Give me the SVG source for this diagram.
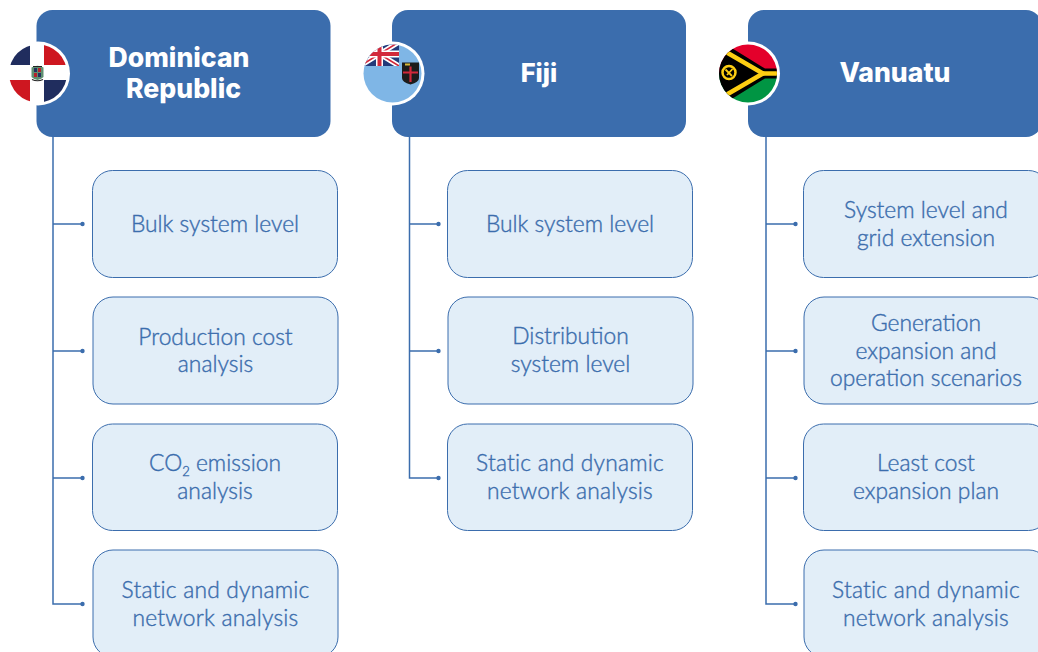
<svg xmlns="http://www.w3.org/2000/svg" width="1038" height="652" viewBox="0 0 1038 652">
<style>
.hd{fill:#3b6dad}
.hdt{font-family:"Inter","Liberation Sans",sans-serif;font-weight:800;font-size:26.6px;fill:#fff;text-anchor:middle}
.bx{fill:#e2eef8;stroke:#3b6dad;stroke-width:1}
.bt{font-family:"Lato","Liberation Sans",sans-serif;font-size:22.8px;font-weight:300;fill:#3b6dad;text-anchor:middle;stroke:#3b6dad;stroke-width:.4}
.w{letter-spacing:.2px}
.sub{font-size:13px}
.ln{fill:none;stroke:#3b6dad;stroke-width:1.5}
.dot{fill:#3b6dad}
</style>
<defs>
<clipPath id="c1"><circle cx="38" cy="73.5" r="29"/></clipPath>
<clipPath id="c2"><circle cx="392.5" cy="73.5" r="29"/></clipPath>
<clipPath id="c3"><circle cx="748" cy="73.5" r="29"/></clipPath>
<clipPath id="uj"><rect x="360" y="42" width="39" height="24"/></clipPath>
</defs>
<g id="connectors">
<path class="ln" d="M53 137V604H82M53 224H82M53 351H82M53 478H82"/>
<circle class="dot" cx="82.500" cy="224" r="2.200"/><circle class="dot" cx="82.500" cy="351" r="2.200"/><circle class="dot" cx="82.500" cy="478" r="2.200"/><circle class="dot" cx="82.500" cy="604" r="2.200"/>
<path class="ln" d="M409.500 137V478H438M409.500 224H438M409.500 351H438"/>
<circle class="dot" cx="438.500" cy="224" r="2.200"/><circle class="dot" cx="438.500" cy="351" r="2.200"/><circle class="dot" cx="438.500" cy="478" r="2.200"/>
<path class="ln" d="M766 137V604H795M766 224H795M766 351H795M766 478H795"/>
<circle class="dot" cx="795.500" cy="224" r="2.200"/><circle class="dot" cx="795.500" cy="351" r="2.200"/><circle class="dot" cx="795.500" cy="478" r="2.200"/><circle class="dot" cx="795.500" cy="604" r="2.200"/>
</g>
<g id="header-dominican-republic">
<rect class="hd" x="36.500" y="10" width="294" height="127" rx="16"/>
<text class="hdt"><tspan x="179" y="66.500">Dominican</tspan><tspan x="183.500" y="97.500">Republic</tspan></text>
<circle cx="38" cy="73.500" r="32" fill="#fff"/>
<g clip-path="url(#c1)">
<rect x="9" y="44" width="21" height="21" fill="#202d5e"/><rect x="44" y="44" width="23" height="21" fill="#ce1720"/>
<rect x="9" y="80" width="21" height="23" fill="#ce1720"/><rect x="44" y="80" width="23" height="23" fill="#202d5e"/>
<path d="M31.500 67.500Q37.500 64 43.500 67.500V77Q37.500 83 31.500 77Z" fill="#5f8f70"/>
<rect x="34" y="68" width="3" height="4" fill="#23305f"/><rect x="38" y="68" width="3" height="4" fill="#b5222a"/><rect x="34" y="73" width="3" height="4" fill="#b5222a"/><rect x="38" y="73" width="3" height="4" fill="#23305f"/>
<path d="M33 66.500H42M32 79.500Q37.500 82 43 79.500" stroke="#222" stroke-width="1.200" fill="none"/>
</g>
</g>
<g id="header-fiji">
<rect class="hd" x="392" y="10" width="294" height="127" rx="16"/>
<text class="hdt" x="539" y="81.500" style="font-size:25.500px">Fiji</text>
<circle cx="392.500" cy="73.500" r="32" fill="#fff"/>
<g clip-path="url(#c2)">
<rect x="363" y="44" width="60" height="60" fill="#7fb6e6"/>
<g clip-path="url(#uj)">
<rect x="360" y="42" width="39" height="24" fill="#233a7a"/>
<path d="M360 42L399 66M360 66L399 42" stroke="#fff" stroke-width="5"/>
<path d="M360 42L399 66M360 66L399 42" stroke="#d2283a" stroke-width="1.600"/>
<path d="M379.500 42V66M360 54H399" stroke="#fff" stroke-width="7"/>
<path d="M379.500 42V66M360 54H399" stroke="#d2283a" stroke-width="4"/>
</g>
<path d="M402 62.500H419V78Q419 82 410.500 84.500Q402 82 402 78Z" fill="#1c1c1c"/>
<path d="M410.500 66.500V82M403 72.500H418" stroke="#d2283a" stroke-width="2.200" fill="none"/>
<rect x="405" y="63.500" width="5" height="2" fill="#d8b93a"/>
</g>
</g>
<g id="header-vanuatu">
<rect class="hd" x="748" y="10" width="294" height="127" rx="16"/>
<text class="hdt" x="895" y="81.500">Vanuatu</text>
<circle cx="748" cy="73.500" r="32" fill="#fff"/>
<g clip-path="url(#c3)">
<rect x="718" y="44" width="60" height="30" fill="#e4002b"/>
<rect x="718" y="73" width="60" height="31" fill="#009543"/>
<path d="M778 68.500H765L722 42H714V105H722L765 78.500H778Z" fill="#000"/>
<path d="M726 52L763 73.500L726 95" fill="none" stroke="#fdce12" stroke-width="4.500"/>
<path d="M762 73.500H778" stroke="#fdce12" stroke-width="4.500"/>
<circle cx="729" cy="72.500" r="6.500" fill="none" stroke="#fdce12" stroke-width="2.500"/>
<path d="M725.500 69.500L732 76M732.500 69L727 75" stroke="#fdce12" stroke-width="1.800"/>
</g>
</g>
<g id="dr-1"><rect class="bx" x="92.500" y="170.500" width="245" height="107" rx="20"/><text class="bt" x="215" y="232">Bulk system level</text></g>
<g id="dr-2"><rect class="bx" x="93" y="297" width="245" height="107" rx="20"/><text class="bt"><tspan x="215.500" y="345">Production cost</tspan><tspan x="215.500" y="372">analysis</tspan></text></g>
<g id="dr-3"><rect class="bx" x="92.500" y="424" width="245" height="106.500" rx="20"/><text class="bt"><tspan x="215" y="471">CO<tspan class="sub" dy="5">2</tspan><tspan dy="-5"> emission</tspan></tspan><tspan x="215" y="499">analysis</tspan></text></g>
<g id="dr-4"><rect class="bx" x="93" y="550" width="245" height="107" rx="20"/><text class="bt w"><tspan x="215.500" y="598">Static and dynamic</tspan><tspan x="215.500" y="626">network analysis</tspan></text></g>
<g id="fj-1"><rect class="bx" x="447.500" y="170.500" width="245" height="107" rx="20"/><text class="bt" x="570" y="232">Bulk system level</text></g>
<g id="fj-2"><rect class="bx" x="448" y="297" width="245" height="107" rx="20"/><text class="bt"><tspan x="570.500" y="344">Distribution</tspan><tspan x="570.500" y="372">system level</tspan></text></g>
<g id="fj-3"><rect class="bx" x="447.500" y="424" width="245" height="106.500" rx="20"/><text class="bt w"><tspan x="570" y="471">Static and dynamic</tspan><tspan x="570" y="499">network analysis</tspan></text></g>
<g id="vu-1"><rect class="bx" x="803.500" y="170.500" width="245" height="107" rx="20"/><text class="bt"><tspan x="926" y="218">System level and</tspan><tspan x="926" y="246">grid extension</tspan></text></g>
<g id="vu-2"><rect class="bx" x="804" y="297" width="245" height="107" rx="20"/><text class="bt"><tspan x="926" y="331">Generation</tspan><tspan x="926" y="359">expansion and</tspan><tspan x="926" y="386">operation scenarios</tspan></text></g>
<g id="vu-3"><rect class="bx" x="803.500" y="424" width="245" height="106.500" rx="20"/><text class="bt"><tspan x="926" y="471">Least cost</tspan><tspan x="926" y="499">expansion plan</tspan></text></g>
<g id="vu-4"><rect class="bx" x="804" y="550" width="245" height="107" rx="20"/><text class="bt w"><tspan x="926" y="598">Static and dynamic</tspan><tspan x="926" y="626">network analysis</tspan></text></g>
</svg>
